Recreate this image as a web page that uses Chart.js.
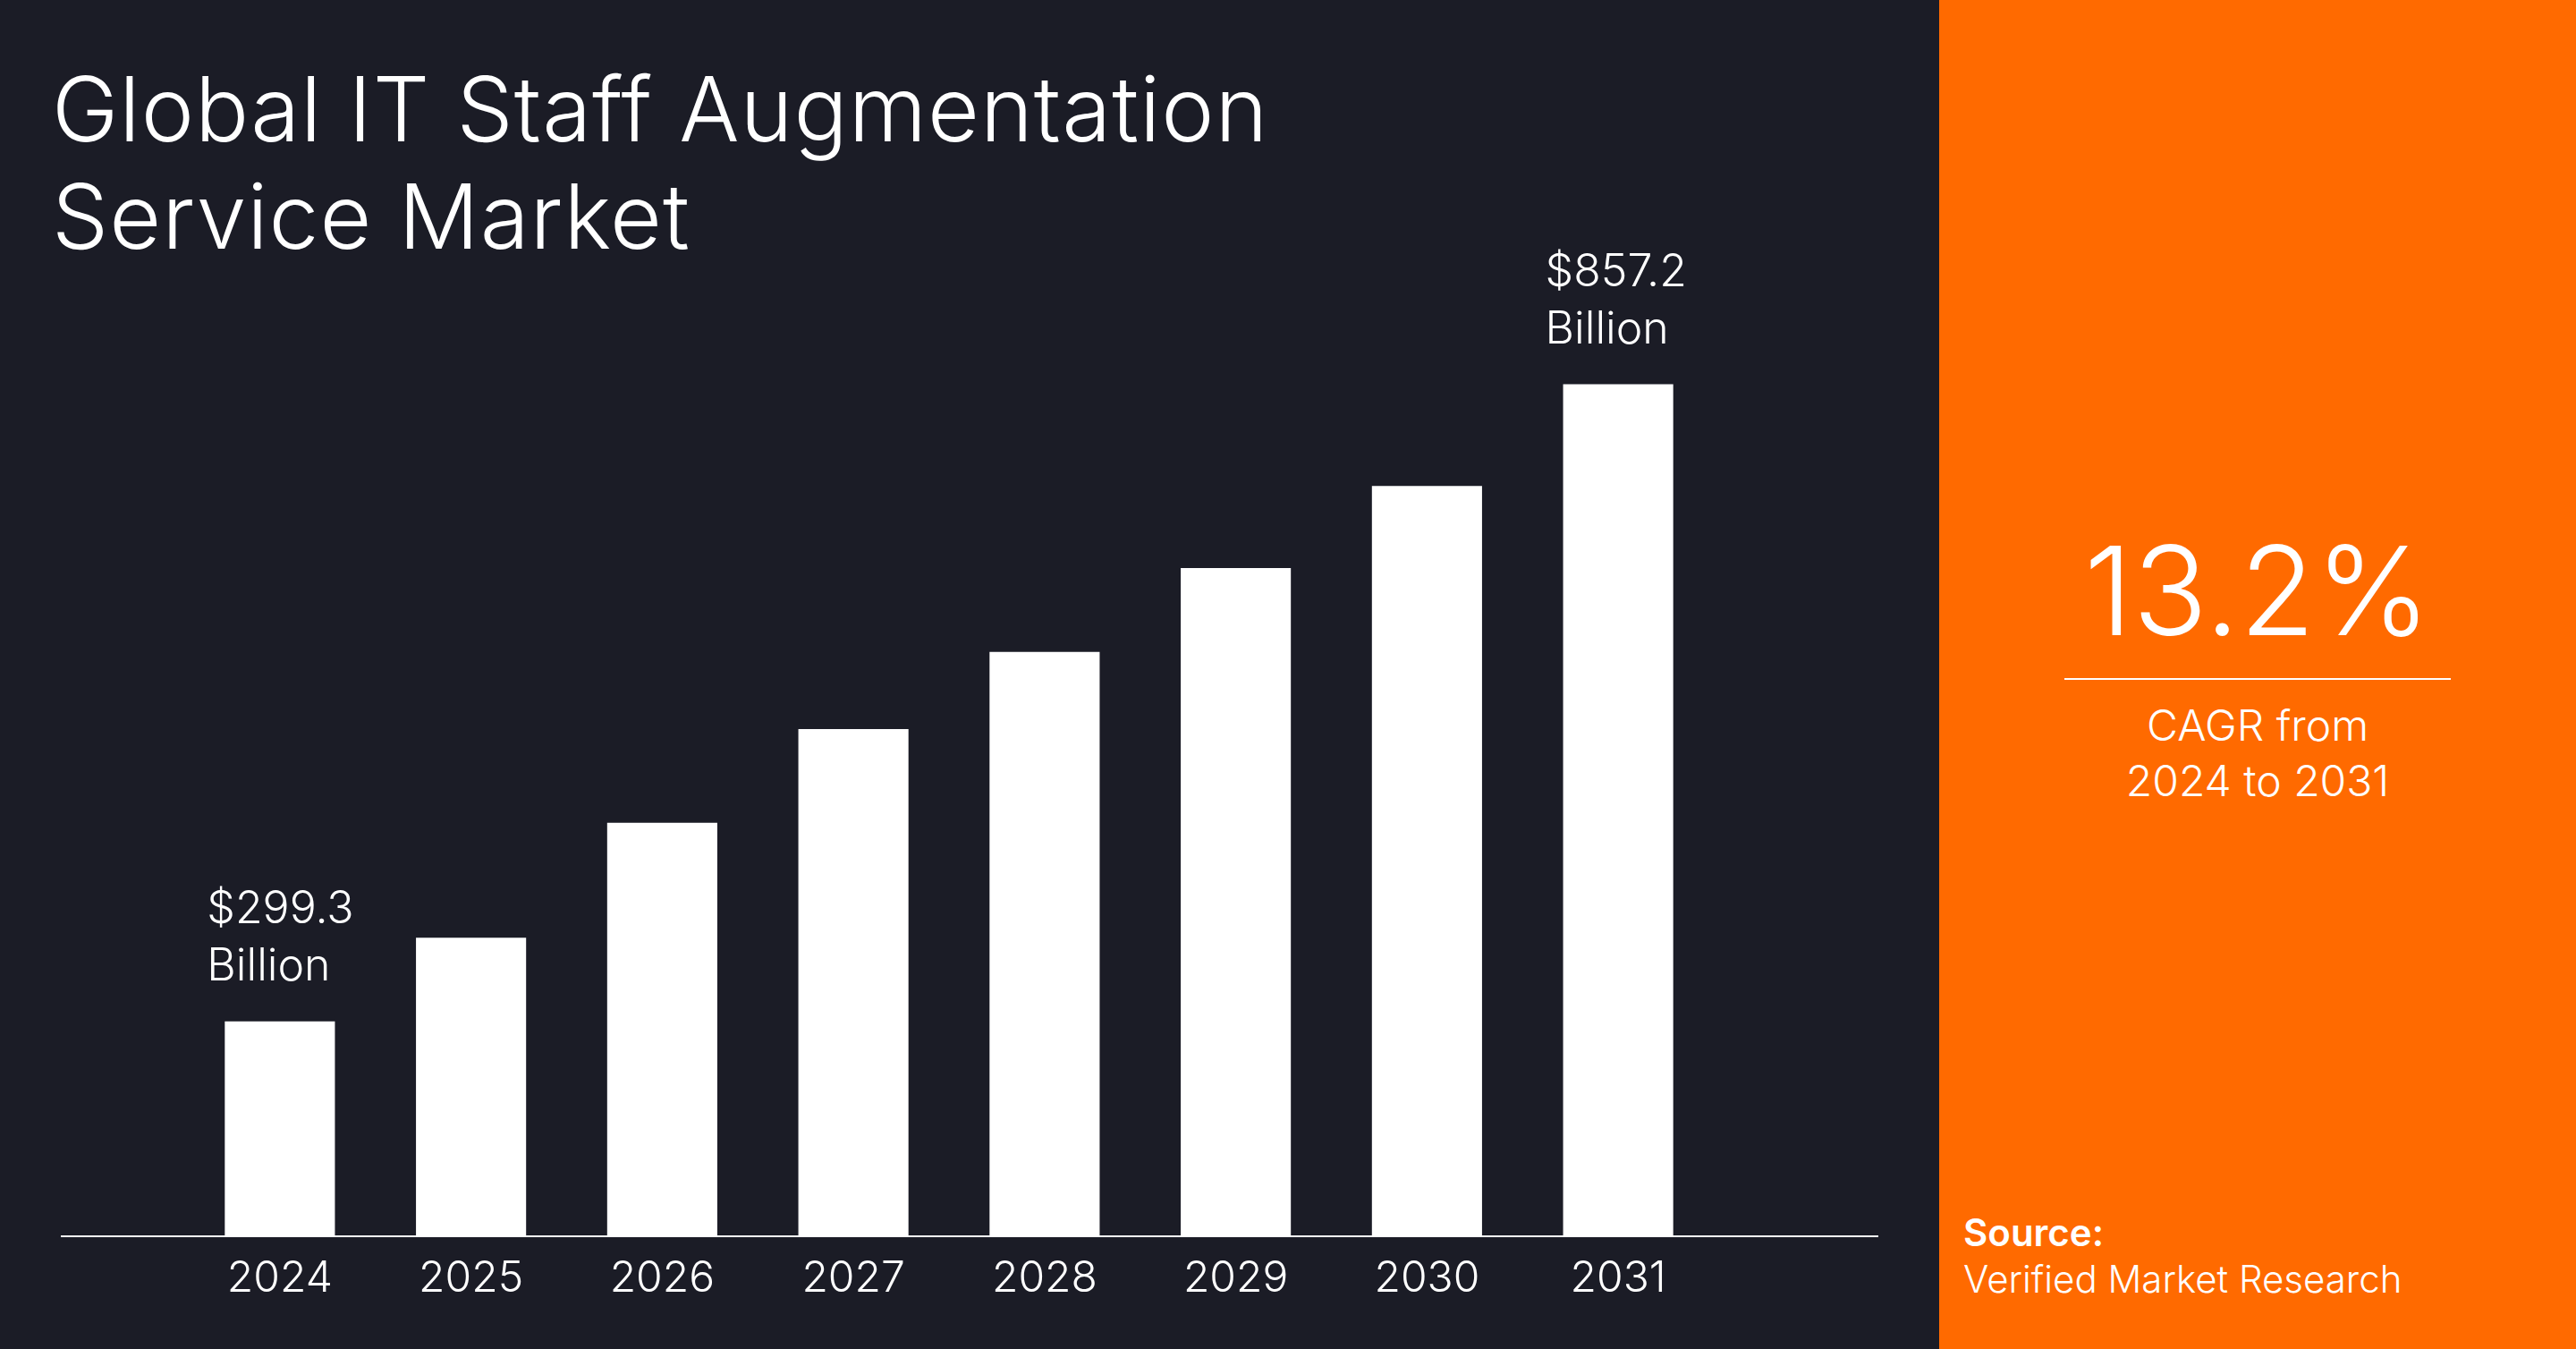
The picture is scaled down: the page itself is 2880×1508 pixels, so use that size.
<!DOCTYPE html>
<html lang="en">
<head>
  <meta charset="UTF-8">
  <title>Global IT Staff Augmentation Service Market</title>
  <script src="https://cdn.jsdelivr.net/npm/chart.js"></script>
  <style>
    html, body { margin: 0; padding: 0; }
    body { width: 2880px; height: 1508px; position: relative; overflow: hidden; font-family: Inter, 'Noto Sans', sans-serif; color: #fff; }
    .left { position: absolute; left: 0; top: 0; width: 2168px; height: 1508px; background: #1b1c26; }
    .right { position: absolute; left: 2168px; top: 0; width: 712px; height: 1508px; background: #ff6a00; }
    h1 { position: absolute; left: 58px; top: 62px; margin: 0; font-weight: 300; font-size: 100px; line-height: 120px; letter-spacing: 1px; }
    .chart-box { position: absolute; left: 68px; top: 200px; width: 2032px; height: 1281px; }
    .cagr { position: absolute; left: 0; width: 712px; top: 580px; text-align: center; }
    .cagr .big { font-size: 138px; line-height: 160px; font-weight: 300; }
    .cagr hr { width: 432px; border: 0; border-top: 2px solid #fff; margin: 18px auto 20px; }
    .cagr .sub { font-size: 48px; line-height: 62px; font-weight: 300; }
    .source { position: absolute; left: 27px; top: 1352px; font-size: 42px; line-height: 52px; font-weight: 300; }
    .source b { font-weight: 600; }
  </style>
</head>
<body>
  <div class="left">
    <h1>Global IT Staff Augmentation<br>Service Market</h1>
    <div class="chart-box"><canvas id="marketChart"></canvas></div>
  </div>
  <div class="right">
    <div class="cagr">
      <div class="big">13.2%</div>
      <hr>
      <div class="sub">CAGR from<br>2024 to 2031</div>
    </div>
    <div class="source"><b>Source:</b><br>Verified Market Research</div>
  </div>

  <script>
    const years = ['2024', '2025', '2026', '2027', '2028', '2029', '2030', '2031'];
    const marketValues = [299.3, 372.7, 473.3, 555.3, 622.9, 696.3, 768.1, 857.2];
    const valueLabels = { 0: ['$299.3', 'Billion'], 7: ['$857.2', 'Billion'] };

    // baseline wider than the bars + labels over first/last bar
    const extras = {
      id: 'extras',
      afterDraw(chart) {
        const ctx = chart.ctx;
        const area = chart.chartArea;
        ctx.save();
        ctx.strokeStyle = '#ffffff';
        ctx.lineWidth = 2;
        ctx.beginPath();
        ctx.moveTo(0, area.bottom + 1);
        ctx.lineTo(chart.width, area.bottom + 1);
        ctx.stroke();

        const meta = chart.getDatasetMeta(0);
        ctx.fillStyle = '#ffffff';
        ctx.font = '300 50px Inter, "Noto Sans", sans-serif';
        ctx.textAlign = 'left';
        ctx.textBaseline = 'alphabetic';
        Object.keys(valueLabels).forEach(function(i) {
          const bar = meta.data[i];
          const x = bar.x - bar.width / 2 - 20;
          const lines = valueLabels[i];
          ctx.fillText(lines[0], x, bar.y - 110);
          ctx.fillText(lines[1], x, bar.y - 46);
        });
        ctx.restore();
      }
    };

    const ctx = document.getElementById('marketChart').getContext('2d');
    new Chart(ctx, {
      type: 'bar',
      data: {
        labels: years,
        datasets: [{
          data: marketValues,
          backgroundColor: '#ffffff',
          borderWidth: 0,
          barPercentage: 0.576,
          categoryPercentage: 1
        }]
      },
      options: {
        responsive: true,
        maintainAspectRatio: false,
        animation: false,
        layout: { padding: { left: 138, right: 184, top: 0, bottom: 0 } },
        plugins: { legend: { display: false }, tooltip: { enabled: false } },
        scales: {
          y: { display: false, min: 112, max: 1037 },
          x: {
            grid: { display: false },
            border: { display: false },
            ticks: {
              color: '#ffffff',
              font: { family: 'Inter, "Noto Sans", sans-serif', size: 48, weight: 300 },
              padding: 12
            },
            afterFit(scale) { scale.height = 100; }
          }
        }
      },
      plugins: [extras]
    });
  </script>
</body>
</html>
